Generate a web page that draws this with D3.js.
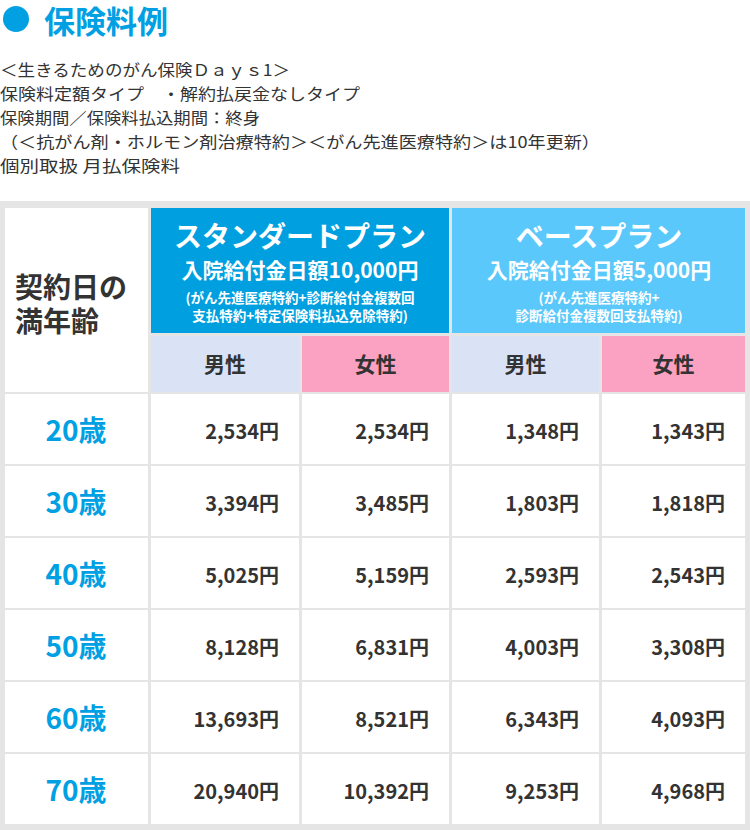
<!DOCTYPE html><html><head><meta charset="utf-8"><script src="https://cdn.jsdelivr.net/npm/d3@7"></script>
<style>body{margin:0;background:#fff}</style></head><body><svg id="c" width="750" height="830"></svg>
<script>
const title="保険料例";
const notes=["＜生きるためのがん保険Ｄａｙｓ1＞","保険料定額タイプ　・解約払戻金なしタイプ","保険期間／保険料払込期間：終身","（＜抗がん剤・ホルモン剤治療特約＞＜がん先進医療特約＞は10年更新）","個別取扱 月払保険料"];
const ages=["20歳","30歳","40歳","50歳","60歳","70歳"];
const stdMale=["2,534円","3,394円","5,025円","8,128円","13,693円","20,940円"];
const stdFemale=["2,534円","3,485円","5,159円","6,831円","8,521円","10,392円"];
const baseMale=["1,348円","1,803円","2,593円","4,003円","6,343円","9,253円"];
const baseFemale=["1,343円","1,818円","2,543円","3,308円","4,093円","4,968円"];
const F='"Noto Sans CJK JP","Noto Sans",sans-serif';
const svg=d3.select("#c");
svg.append("circle").attr("cx",16).attr("cy",19).attr("r",13).attr("fill","#00a0e3");
svg.append("text").attr("x",44).attr("y",33).text(title).attr("font-family",F).attr("font-weight",700).attr("font-size",31).attr("fill","#00a0e3");
svg.selectAll("text.n").data(notes).join("text").attr("class","n").attr("x",0).attr("y",(d,i)=>76+i*24).text(d=>d).attr("font-family",F).attr("font-size",16).attr("fill","#333").attr("textLength",(d,i)=>[290,360,260,600,180][i]).attr("lengthAdjust","spacingAndGlyphs");
svg.append("rect").attr("x",0).attr("y",201).attr("width",750).attr("height",629).attr("fill","#e5e5e5");
const cx=[5,151,302,452,602], cw=[143,148,147,147,143];
const ry=d3.range(6).map(i=>394+i*72);
function cell(x,y,w,h,fill){svg.append("rect").attr("x",x).attr("y",y).attr("width",w).attr("height",h).attr("fill",fill);}
function txt(x,y,s,size,col,w,anchor){svg.append("text").attr("x",x).attr("y",y).text(s).attr("font-family",F).attr("font-size",size).attr("font-weight",w||700).attr("fill",col).attr("text-anchor",anchor||"middle");}
cell(5,208,143,184,"#fff");
txt(15,298,"契約日の",28,"#333",700,"start");txt(15,332,"満年齢",28,"#333",700,"start");
cell(151,208,298,125,"#009fdf");cell(452,208,293,125,"#5ac8fa");
txt(300,247,"スタンダードプラン",28,"#fff");txt(300,278,"入院給付金日額10,000円",21,"#fff");
txt(300,303,"(がん先進医療特約+診断給付金複数回",13.5,"#fff");txt(300,321,"支払特約+特定保険料払込免除特約)",13.5,"#fff");
txt(599,247,"ベースプラン",28,"#fff");txt(599,278,"入院給付金日額5,000円",21,"#fff");
txt(599,303,"(がん先進医療特約+",13.5,"#fff");txt(599,321,"診断給付金複数回支払特約)",13.5,"#fff");
const sub=[["男性","#d9e3f5"],["女性","#fba1c1"],["男性","#d9e3f5"],["女性","#fba1c1"]];
sub.forEach((s,i)=>{cell(cx[i+1],336,cw[i+1],56,s[1]);txt(cx[i+1]+cw[i+1]/2,372,s[0],21,"#333");});
const cols=[stdMale,stdFemale,baseMale,baseFemale];
ages.forEach((a,r)=>{
  cell(5,ry[r],143,70,"#fff");txt(76,ry[r]+47,a,28,"#00a0e3");
  cols.forEach((c,i)=>{cell(cx[i+1],ry[r],cw[i+1],70,"#fff");txt(cx[i+1]+cw[i+1]-20,ry[r]+45,c[r],20,"#333",700,"end");});
});
</script></body></html>
